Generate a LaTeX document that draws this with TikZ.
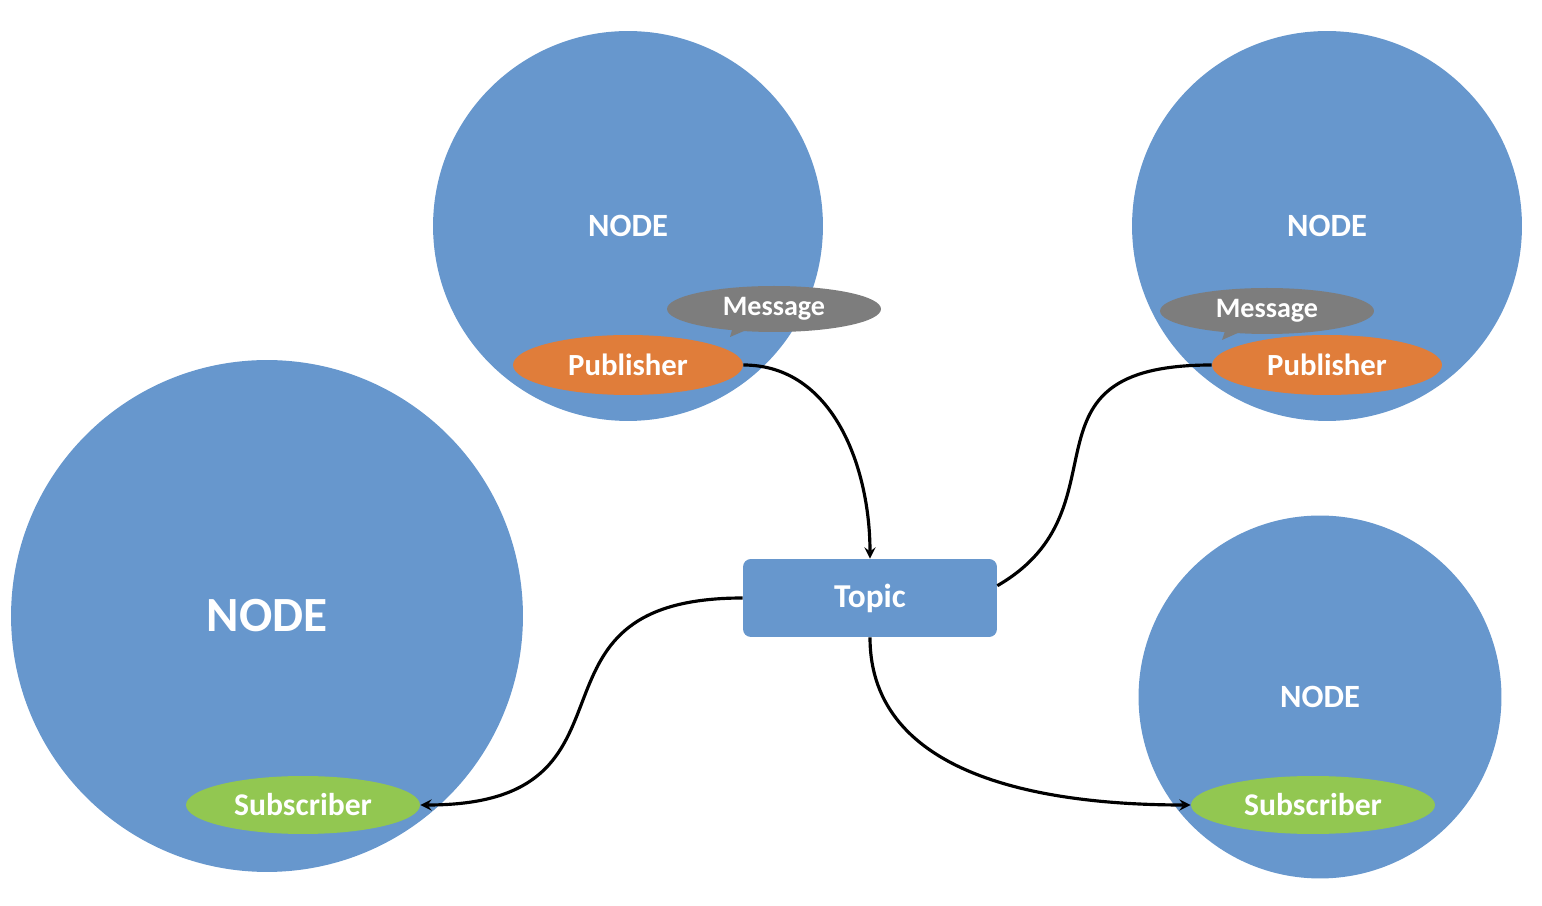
\documentclass[tikz,border=0pt]{standalone}
\usepackage{fontspec}
\setmainfont{Carlito}
\usetikzlibrary{arrows,shapes.geometric}

\definecolor{rosblue}{RGB}{103,151,205}
\definecolor{pubor}{RGB}{224,125,58}
\definecolor{msggray}{RGB}{125,125,125}
\definecolor{subgreen}{RGB}{146,199,81}

\begin{document}
\begin{tikzpicture}[x=0.02cm,y=0.02cm,
	rosnode/.style = {circle, fill=rosblue, inner sep=0pt, text=white, font=\bfseries\fontsize{18.5}{20}\selectfont},
	pub/.style = {ellipse, fill=pubor, inner sep=0pt, minimum width=4.6cm, minimum height=1.2cm, text=white, font=\bfseries\fontsize{17.5}{19}\selectfont},
	msg/.style = {ellipse, fill=msggray, inner sep=0pt, minimum width=4.28cm, minimum height=0.92cm, text=white, font=\bfseries\fontsize{16}{18}\selectfont},
	sub/.style = {ellipse, fill=subgreen, inner sep=0pt, minimum height=1.16cm, text=white, font=\bfseries\fontsize{18}{20}\selectfont},
	link/.style = {line width=1.8pt, black}]
	\useasboundingbox (0,0) rectangle (1542,906);
		\node[rosnode, minimum size=7.8cm] (NA) at (628,680) {NODE};
		\node[rosnode, minimum size=7.8cm] (NB) at (1327,680) {NODE};
		\node[rosnode, minimum size=10.24cm, font=\bfseries\fontsize{28}{30}\selectfont] (NC) at (267,290) {NODE};
		\node[rosnode, minimum size=7.26cm] (ND) at (1320,209) {NODE};
	%	message bubbles
		\fill[msggray] (735,586) -- (730,569) -- (765,584) -- cycle;
		\node[msg] (MsgA) at (774,597) {Message};
		\fill[msggray] (1228,584) -- (1222,566) -- (1258,582) -- cycle;
		\node[msg] (MsgB) at (1267,595) {Message};
		\node[pub] (PubA) at (628,541) {Publisher};
		\node[pub] (PubB) at (1327,541) {Publisher};
		\node[sub, minimum width=4.68cm] (SubC) at (303,101) {Subscriber};
		\node[sub, minimum width=4.88cm] (SubD) at (1313,101) {Subscriber};
		\node[rectangle, rounded corners=4.5pt, fill=rosblue, minimum width=5.08cm, minimum height=1.56cm, inner sep=0pt, text=white, font=\bfseries\fontsize{19}{21}\selectfont] (Topic) at (870,308) {Topic};
		\draw[link, -stealth] (PubA.east) to[out=0, in=90] (Topic.north);
		\draw[link] ([yshift=7pt]Topic.east) to[out=30, in=180, out looseness=1.3, in looseness=1.7] (PubB.west);
		\draw[link, -stealth] (Topic.west) to[out=180, in=0, looseness=1.6] (SubC.east);
		\draw[link, -stealth] (Topic.south) to[out=-90, in=180] (SubD.west);
	\end{tikzpicture}
\end{document}
